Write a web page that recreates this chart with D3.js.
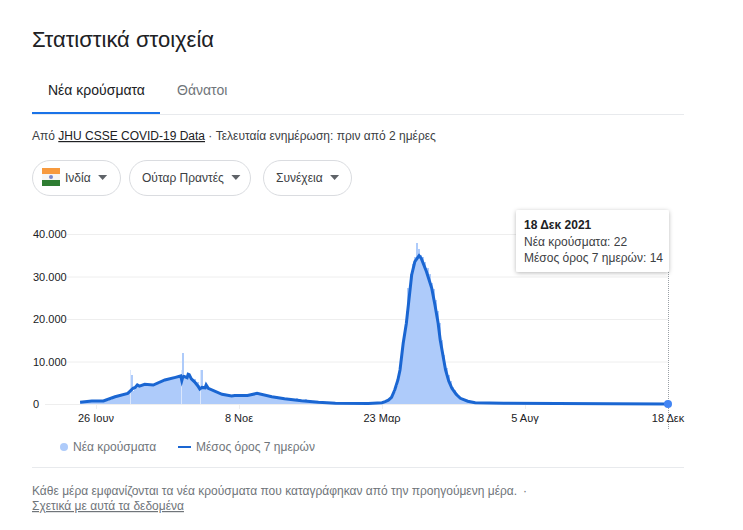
<!DOCTYPE html>
<html><head><meta charset="utf-8"><script src="https://d3js.org/d3.v7.min.js"></script>
<style>html,body{margin:0;background:#fff;overflow:hidden}svg{display:block}text{font-family:"Liberation Sans",Arial,sans-serif}</style>
</head><body><div id="c"></div>
<script>
const startDate = "2020-06-11";
const lastDate = "2021-12-18";
const yTicks = [0, 10000, 20000, 30000, 40000];
const yTickLabels = ["0", "10.000", "20.000", "30.000", "40.000"];
const xTickDates = ["2020-06-26", "2020-11-08", "2021-03-23", "2021-08-05", "2021-12-18"];
const xTickLabels = ["26 Ιουν", "8 Νοε", "23 Μαρ", "5 Αυγ", "18 Δεκ"];
// day offsets from startDate
const avgDays = [0,11,22,33,45,50,52,54,56,61,69,80,90,95,96,97,98,101,102,103,105,108,111,113,115,118,119,121,134,143,146,158,167,181,193,209,225,241,272,285,288,291,294,297,300,302,305,308,313,316,320,322,327,332,335,338,340,345,348,351,355,359,366,373,400,450,500,555];
const avgValues = [400,700,700,1700,2500,3700,3900,4500,4200,4630,4470,5650,6270,6600,5500,6400,6500,6200,7000,6900,5900,5200,4300,3500,3900,3800,4500,3700,2280,1880,2000,2000,2500,1720,1250,780,400,160,90,300,540,900,1570,3300,5650,8000,14280,19000,30350,33500,34900,34280,31130,27200,23300,19000,15000,8000,5400,3690,2300,1340,650,310,170,90,60,14];
const barDays = [0,3,6,9,12,15,18,21,24,27,30,33,36,39,42,45,48,51,54,57,60,63,66,69,72,75,78,81,84,87,90,93,96,99,102,105,108,111,114,117,120,123,126,129,132,135,138,141,144,147,150,153,156,159,162,165,168,171,174,177,180,186,192,198,204,210,216,222,228,234,240,246,252,258,264,270,276,282,285,288,290,292,294,296,298,300,302,304,306,308,309,311,313,315,317,318,320,322,324,326,328,330,332,334,336,338,340,342,344,346,348,350,352,354,356,358,360,362,364,368,372,378,384,390,400,420,440,460,480,500,520,540,554];
const barValues = [400,500,600,650,700,750,700,700,800,1000,1350,1700,1900,2150,2350,2600,3000,3900,4500,4300,4600,4650,4550,4500,4800,5100,5500,5700,5900,6050,6300,6550,6700,6600,6400,5900,5200,4400,3700,3800,3800,3400,3100,2750,2450,2250,2100,1950,1950,2000,2000,2000,2000,2050,2250,2450,2500,2350,2150,1950,1800,1550,1300,1150,1000,750,600,450,300,220,170,140,120,100,90,90,110,220,350,550,800,1250,1800,2800,4200,6200,9000,13500,18000,22000,27300,30500,33000,34500,37900,36500,35000,34500,33500,32000,30500,28500,27000,24500,22000,19000,15000,11500,8500,6800,5300,4000,3300,2500,1900,1500,1200,950,750,550,370,260,210,190,170,130,100,80,70,60,50,40,22];
const spikeDays = [48, 96, 114, 204, 212];
const spikeValues = [6800, 12000, 8000, 1300, 1200];
const gapDays = [47, 95, 113];
const legendLabels = ["Νέα κρούσματα", "Μέσος όρος 7 ημερών"];

const W = 743, H = 530;
const svg = d3.select("#c").append("svg").attr("width", W).attr("height", H);
const parse = d3.utcParse("%Y-%m-%d");
const t0 = parse(startDate);
const toDate = d => d3.utcDay.offset(t0, d);
const x = d3.scaleUtc().domain([parse(xTickDates[0]), parse(lastDate)]).range([96, 668]);
const y = d3.scaleLinear().domain([0, 40000]).range([404, 234]);
const BAR = "#aecbfa", LINE = "#1a66d2", GRID = "#eeeeee", RULE = "#e8eaed";

function txt(xp, yp, s, size, fill, o = {}) {
  const n = svg.append("text").attr("x", xp).attr("y", yp).attr("font-size", size).attr("fill", fill).text(s);
  if (o.weight) n.attr("font-weight", o.weight);
  if (o.ul) n.attr("text-decoration", "underline");
  return n;
}
function pill(xp, w, label, flag) {
  svg.append("rect").attr("x", xp + .5).attr("y", 160.5).attr("width", w).attr("height", 35).attr("rx", 17.5).attr("fill", "#fff").attr("stroke", "#dadce0");
  const tx = flag ? xp + 33 : xp + 13;
  const t = txt(tx, 182, label, 12, "#3c4043");
  const cx = tx + t.node().getComputedTextLength() + 12;
  svg.append("path").attr("d", `M${cx - 4.5},175L${cx + 4.5},175L${cx},180Z`).attr("fill", "#5f6368");
}

txt(32, 47, "Στατιστικά στοιχεία", 22, "#202124");
txt(48, 95, "Νέα κρούσματα", 14, "#202124");
txt(177, 95, "Θάνατοι", 14, "#70757a");
svg.append("line").attr("x1", 32).attr("x2", 684).attr("y1", 114.5).attr("y2", 114.5).attr("stroke", RULE);
svg.append("rect").attr("x", 32).attr("y", 112).attr("width", 128).attr("height", 2).attr("fill", "#1a73e8");

const src = txt(32, 140, "", 12, "#3c4043");
src.append("tspan").text("Από ");
src.append("tspan").attr("text-decoration", "underline").attr("fill", "#202124").text("JHU CSSE COVID-19 Data");
src.append("tspan").text(" · Τελευταία ενημέρωση: πριν από 2 ημέρες");

pill(32, 88, "Ινδία", true);
pill(129, 121, "Ούταρ Πραντές", false);
pill(263, 88, "Συνέχεια", false);
const flagG = svg.append("g");
flagG.append("rect").attr("x", 42).attr("y", 168).attr("width", 18).attr("height", 6).attr("fill", "#f79a3e");
flagG.append("rect").attr("x", 42).attr("y", 174).attr("width", 18).attr("height", 6).attr("fill", "#f5f5f5");
flagG.append("rect").attr("x", 42).attr("y", 180).attr("width", 18).attr("height", 6).attr("fill", "#2e7d32");
flagG.append("circle").attr("cx", 51).attr("cy", 177).attr("r", 2).attr("fill", "#7986cb");

// grid
svg.append("g").selectAll("line").data(yTicks).join("line")
  .attr("x1", d => d === 0 ? 45 : 67).attr("x2", 668).attr("y1", d => y(d) + .5).attr("y2", d => y(d) + .5)
  .attr("stroke", GRID);
// x tick marks
svg.append("g").selectAll("line").data(xTickDates.slice(0, 4)).join("line")
  .attr("x1", d => x(parse(d)) + .5).attr("x2", d => x(parse(d)) + .5).attr("y1", 404).attr("y2", 409).attr("stroke", GRID);
// bars
svg.append("g").attr("shape-rendering", "crispEdges").selectAll("rect").data(barDays).join("rect")
  .attr("x", d => x(toDate(d)))
  .attr("width", (d, i) => x(toDate(i < barDays.length - 1 ? barDays[i + 1] : d + 1)) - x(toDate(d)) + 1)
  .attr("y", (d, i) => y(barValues[i]))
  .attr("height", (d, i) => 404 - y(barValues[i]))
  .attr("fill", BAR);
svg.append("g").attr("shape-rendering", "crispEdges").selectAll("rect").data(gapDays).join("rect")
  .attr("x", d => x(toDate(d))).attr("width", 1).attr("y", y(8000)).attr("height", 404 - y(8000))
  .attr("fill", "#dbe7fc");
svg.append("g").attr("shape-rendering", "crispEdges").selectAll("rect").data(spikeDays).join("rect")
  .attr("x", d => x(toDate(d)))
  .attr("width", 2)
  .attr("y", (d, i) => y(spikeValues[i]))
  .attr("height", (d, i) => 404 - y(spikeValues[i]))
  .attr("fill", BAR);
// average line
const line = d3.line().x(d => x(toDate(d))).y((d, i) => y(avgValues[i]));
svg.append("path").datum(avgDays).attr("d", line).attr("fill", "none").attr("stroke", LINE).attr("stroke-width", 3).attr("stroke-linejoin", "miter").attr("stroke-miterlimit", 8);

// axis labels
svg.append("g").selectAll("text").data(yTicks).join("text")
  .attr("x", 33).attr("y", d => y(d) + 4).attr("font-size", 11).attr("fill", "#202124")
  .text((d, i) => yTickLabels[i]);
svg.append("g").selectAll("text").data(xTickDates).join("text")
  .attr("x", d => x(parse(d))).attr("y", 422).attr("text-anchor", "middle").attr("font-size", 11).attr("fill", "#202124")
  .text((d, i) => xTickLabels[i]);

// cursor
const cx = x(parse(lastDate));
svg.append("line").attr("x1", cx + .5).attr("x2", cx + .5).attr("y1", 272).attr("y2", 430).attr("stroke", "#9aa0a6").attr("stroke-dasharray", "1,1");
svg.append("circle").attr("cx", cx).attr("cy", y(14)).attr("r", 4).attr("fill", "#4285f4");

// tooltip
const f = svg.append("defs").append("filter").attr("id", "sh").attr("x", "-10%").attr("y", "-20%").attr("width", "120%").attr("height", "150%");
f.append("feDropShadow").attr("dx", 0).attr("dy", 1).attr("stdDeviation", 2).attr("flood-color", "#000").attr("flood-opacity", .28);
svg.append("rect").attr("x", 516).attr("y", 210).attr("width", 153).attr("height", 62).attr("rx", 2).attr("fill", "#fff").attr("filter", "url(#sh)");
txt(524, 229, "18 Δεκ 2021", 12, "#202124", { weight: 700 });
txt(524, 246, "Νέα κρούσματα: 22", 12, "#3c4043");
txt(524, 262, "Μέσος όρος 7 ημερών: 14", 12, "#3c4043");

// legend
svg.append("circle").attr("cx", 64).attr("cy", 447).attr("r", 4).attr("fill", BAR);
txt(73, 451, legendLabels[0], 12, "#70757a");
svg.append("rect").attr("x", 178).attr("y", 446).attr("width", 13).attr("height", 2).attr("fill", LINE);
txt(196, 451, legendLabels[1], 12, "#70757a");

svg.append("line").attr("x1", 32).attr("x2", 684).attr("y1", 467.5).attr("y2", 467.5).attr("stroke", RULE);
txt(32, 495, "Κάθε μέρα εμφανίζονται τα νέα κρούσματα που καταγράφηκαν από την προηγούμενη μέρα.", 12, "#70757a");
txt(523, 495, "·", 12, "#70757a");
txt(32, 510, "Σχετικά με αυτά τα δεδομένα", 12, "#70757a", { ul: true });
</script></body></html>
